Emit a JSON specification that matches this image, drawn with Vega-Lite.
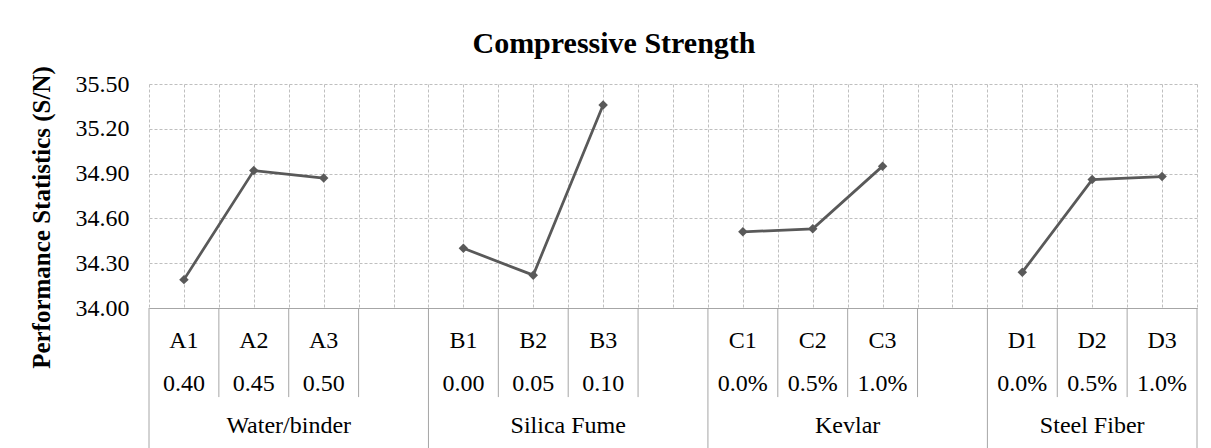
{
  "$schema": "https://vega.github.io/schema/vega-lite/v6.json",
  "autosize": {"type": "pad"},
  "padding": {"left": 28, "top": 28, "right": 0, "bottom": 0},
  "background": "white",
  "spacing": 0,
  "bounds": "flush",
  "title": {
    "text": "Compressive Strength",
    "font": "Liberation Serif, Times New Roman, serif",
    "fontSize": 30,
    "fontWeight": "bold",
    "color": "#000000",
    "anchor": "middle",
    "frame": "group",
    "offset": 7,
    "dx": -59
  },
  "datasets": {
    "main": [
      {"slot": 1, "level": "A1", "setting": "0.40", "factor": "Water/binder", "sn": 34.19},
      {"slot": 2, "level": "A2", "setting": "0.45", "factor": "Water/binder", "sn": 34.92},
      {"slot": 3, "level": "A3", "setting": "0.50", "factor": "Water/binder", "sn": 34.87},
      {"slot": 4, "level": "", "setting": "", "factor": "Water/binder", "sn": null},
      {"slot": 5, "level": "B1", "setting": "0.00", "factor": "Silica Fume", "sn": 34.40},
      {"slot": 6, "level": "B2", "setting": "0.05", "factor": "Silica Fume", "sn": 34.22},
      {"slot": 7, "level": "B3", "setting": "0.10", "factor": "Silica Fume", "sn": 35.36},
      {"slot": 8, "level": "", "setting": "", "factor": "Silica Fume", "sn": null},
      {"slot": 9, "level": "C1", "setting": "0.0%", "factor": "Kevlar", "sn": 34.51},
      {"slot": 10, "level": "C2", "setting": "0.5%", "factor": "Kevlar", "sn": 34.53},
      {"slot": 11, "level": "C3", "setting": "1.0%", "factor": "Kevlar", "sn": 34.95},
      {"slot": 12, "level": "", "setting": "", "factor": "Kevlar", "sn": null},
      {"slot": 13, "level": "D1", "setting": "0.0%", "factor": "Steel Fiber", "sn": 34.24},
      {"slot": 14, "level": "D2", "setting": "0.5%", "factor": "Steel Fiber", "sn": 34.86},
      {"slot": 15, "level": "D3", "setting": "1.0%", "factor": "Steel Fiber", "sn": 34.88}
    ],
    "dividers": [
      {"at": 0.5, "end": 3.52}, {"at": 1.5, "end": 2.32}, {"at": 2.5, "end": 2.32}, {"at": 3.5, "end": 2.32},
      {"at": 4.5, "end": 3.52}, {"at": 5.5, "end": 2.32}, {"at": 6.5, "end": 2.32}, {"at": 7.5, "end": 2.32},
      {"at": 8.5, "end": 3.52}, {"at": 9.5, "end": 2.32}, {"at": 10.5, "end": 2.32}, {"at": 11.5, "end": 2.32},
      {"at": 12.5, "end": 3.52}, {"at": 13.5, "end": 2.32}, {"at": 14.5, "end": 2.32}, {"at": 15.5, "end": 3.52}
    ]
  },
  "vconcat": [
    {
      "width": 1048,
      "height": 224,
      "data": {"name": "main"},
      "encoding": {
        "x": {
          "field": "slot", "type": "quantitative",
          "scale": {"domain": [0.5, 15.5], "nice": false, "zero": false},
          "axis": {
            "values": [0.5, 1, 1.5, 2, 2.5, 3, 3.5, 4, 4.5, 5, 5.5, 6, 6.5, 7, 7.5, 8, 8.5, 9, 9.5, 10, 10.5, 11, 11.5, 12, 12.5, 13, 13.5, 14, 14.5, 15, 15.5],
            "grid": true, "gridColor": "#bfbfbf", "gridDash": [3, 2], "gridWidth": 1,
            "labels": false, "ticks": false, "title": null,
            "domain": true, "domainColor": "#a6a6a6", "domainWidth": 1
          }
        },
        "y": {
          "field": "sn", "type": "quantitative",
          "scale": {"domain": [34, 35.5], "nice": false, "zero": false},
          "axis": {
            "values": [34, 34.3, 34.6, 34.9, 35.2, 35.5],
            "format": ".2f",
            "grid": true, "gridColor": "#bfbfbf", "gridDash": [3, 2], "gridWidth": 1,
            "ticks": false, "domain": false,
            "labelFont": "Liberation Serif, Times New Roman, serif", "labelFontSize": 24, "labelColor": "#000000", "labelPadding": 20,
            "title": "Performance Statistics (S/N)",
            "titleFont": "Liberation Serif, Times New Roman, serif", "titleFontSize": 25, "titleFontWeight": "bold", "titleColor": "#000000",
            "titleX": -108, "titleY": 133, "titleAngle": -90, "titleAlign": "center", "titleBaseline": "middle"
          }
        }
      },
      "layer": [
        {
          "mark": {"type": "line", "color": "#595959", "strokeWidth": 2.75},
          "encoding": {"detail": {"field": "factor"}}
        },
        {
          "mark": {"type": "point", "shape": "diamond", "filled": true, "color": "#595959", "size": 90, "opacity": 1}
        }
      ]
    },
    {
      "width": 1048,
      "height": 140,
      "layer": [
        {
          "data": {"name": "dividers"},
          "mark": {"type": "rule", "color": "#a6a6a6", "strokeWidth": 1},
          "encoding": {
            "x": {"field": "at", "type": "quantitative", "scale": {"domain": [0.5, 15.5], "nice": false, "zero": false}, "axis": null},
            "y": {"field": "end", "type": "quantitative", "scale": {"domain": [0.22, 3.52], "nice": false, "zero": false, "reverse": true}, "axis": null},
            "y2": {"datum": 0.22}
          }
        },
        {
          "data": {"name": "main"},
          "mark": {"type": "text", "font": "Liberation Serif, Times New Roman, serif", "fontSize": 24, "color": "#000000", "baseline": "middle"},
          "encoding": {
            "x": {"field": "slot", "type": "quantitative", "scale": {"domain": [0.5, 15.5], "nice": false, "zero": false}, "axis": null},
            "y": {"datum": 1, "type": "quantitative", "scale": {"domain": [0.22, 3.52], "nice": false, "zero": false, "reverse": true}, "axis": null},
            "text": {"field": "level", "type": "nominal"}
          }
        },
        {
          "data": {"name": "main"},
          "mark": {"type": "text", "font": "Liberation Serif, Times New Roman, serif", "fontSize": 24, "color": "#000000", "baseline": "middle"},
          "encoding": {
            "x": {"field": "slot", "type": "quantitative", "scale": {"domain": [0.5, 15.5], "nice": false, "zero": false}, "axis": null},
            "y": {"datum": 2, "type": "quantitative", "scale": {"domain": [0.22, 3.52], "nice": false, "zero": false, "reverse": true}, "axis": null},
            "text": {"field": "setting", "type": "nominal"}
          }
        },
        {
          "data": {"name": "main"},
          "mark": {"type": "text", "font": "Liberation Serif, Times New Roman, serif", "fontSize": 24, "color": "#000000", "baseline": "middle"},
          "encoding": {
            "x": {"aggregate": "mean", "field": "slot", "type": "quantitative", "scale": {"domain": [0.5, 15.5], "nice": false, "zero": false}, "axis": null},
            "y": {"datum": 3, "type": "quantitative", "scale": {"domain": [0.22, 3.52], "nice": false, "zero": false, "reverse": true}, "axis": null},
            "text": {"field": "factor", "type": "nominal"}
          }
        }
      ]
    }
  ],
  "config": {
    "view": {"stroke": null}
  }
}
